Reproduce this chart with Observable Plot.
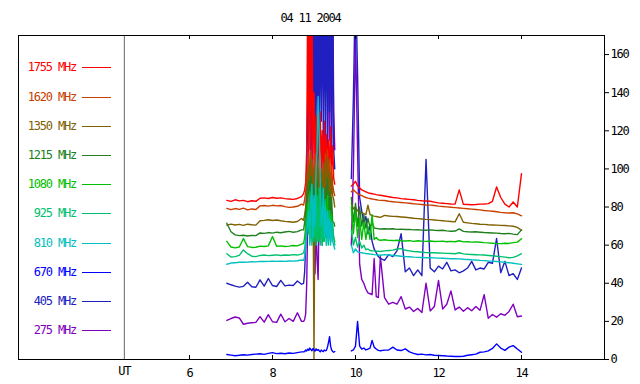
<!DOCTYPE html>
<html><head><meta charset="utf-8">
<script src="https://cdn.jsdelivr.net/npm/d3@7"></script>
<script src="https://cdn.jsdelivr.net/npm/@observablehq/plot@0.6"></script>
<style>
body{margin:0;background:#fff;}
#wrap{position:relative;width:640px;height:384px;font-family:"DejaVu Sans Mono",monospace;font-size:12px;letter-spacing:-1.2px;}
#wrap svg{position:absolute;left:0;top:0;}
#title{position:absolute;top:11px;left:0;width:621px;text-align:center;line-height:14px;color:#000;}
.lg{position:absolute;left:0;height:14px;line-height:14px;display:flex;align-items:center;}
.lg span{display:inline-block;width:76px;text-align:right;}
.lg i{display:inline-block;width:29px;height:1px;background:currentColor;margin-left:6px;}
</style></head>
<body><div id="wrap"><div id="title"></div></div>
<script>
const title = "04 11 2004";
const names = ["1755 MHz","1620 MHz","1350 MHz","1215 MHz","1080 MHz","925 MHz","810 MHz","670 MHz","405 MHz","275 MHz"];
const colors = ["#ff0000","#c84000","#806000","#208020","#00c000","#00c070","#00c0c0","#0000ff","#2020c0","#8000c0"];
const xTicks = [6,8,10,12,14];
const yTicks = [0,20,40,60,80,100,120,140,160];
const utMark = 4.43;
const utLabel = "UT";

// time (UT hours)
const T = [6.9,7.0,7.1,7.2,7.3,7.4,7.5,7.6,7.7,7.8,7.9,8.0,8.1,8.2,8.3,8.4,8.5,8.6,8.7,
8.75,8.775,8.8,8.825,8.85,8.875,8.9,8.925,8.95,8.975,9.0,9.025,9.05,9.075,9.1,9.125,9.15,9.175,9.2,9.225,9.25,9.275,9.3,9.325,9.35,9.375,9.4,9.425,9.45,9.475,9.5,
9.7,
9.9,9.95,10.0,10.05,10.1,10.15,10.2,10.25,10.3,10.35,10.4,10.45,10.5,10.55,10.6,
10.7,10.8,10.9,11.0,11.1,11.2,11.3,11.4,11.5,11.6,11.7,11.8,11.9,12.0,12.1,12.2,12.3,12.4,12.5,12.6,12.7,12.8,12.9,13.0,13.1,13.2,13.3,13.4,13.5,13.6,13.7,13.8,13.9,14.0];

const f1755 = [83.5,83,83.8,83.2,83.5,82.8,83.3,83,84.6,84.8,84.5,85,84.6,84.8,84.4,84.2,84,84.5,85.5,
87,89,93,110,200,100,200,110,200,105,140,100,128,98,122,100,130,100,120,96,125,100,118,98,115,96,122,100,112,95,92,
null,
91,92,93.5,91,90,89,88.5,88,87.5,87.2,87,86.8,86.5,86.3,86.2,
85.8,85.4,85,84.8,84.4,84.2,84,83.8,83.5,83.3,83.2,83,82.6,82.2,82,81.8,81.6,81.5,89,81.4,81.3,81.2,81.3,81.5,81.6,81.8,83,90.5,85,81.5,80,82.6,80,97.5];
const f1620 = [79.3,78.6,79.2,78.8,79.4,78.5,79,78.7,80.6,80.8,80.5,80.9,80.6,80.8,80.2,79.8,80,80.4,81.5,
81,84,88,95,100,108,90,110,88,105,86,108,92,104,86,106,90,100,84,103,90,108,86,110,92,105,86,102,92,88,86,
null,
88,89,88,87,86.5,86,85.5,85,84.7,84.5,84.2,84,83.8,83.6,83.5,
83.4,83,82.8,82.6,82.4,82.2,82,81.7,81.5,81.3,81.1,81,80.8,80.5,80.3,80.1,79.9,79.7,79.5,79.3,79.1,78.9,78.7,78.5,78.2,78,77.8,77.5,77.2,77,76.9,77,76.4,75.4];
const f1350 = [70.5,71,70.6,70.9,70.4,71,70.7,70.5,72.8,73,73.3,72.9,73.2,72.8,72.5,72.3,72,72.4,74,
73,76,80,88,95,102,84,105,82,100,0,98,82,102,80,100,84,98,80,100,84,104,82,106,86,98,80,95,86,84,80,
null,
82,79,80,78,77.5,77,76.5,76,81,76,75.5,75.2,75,74.8,74.6,
75.6,75.3,75.1,75,74.8,74.6,74.4,74.1,73.9,73.7,73.5,73.4,73.2,73,72.8,72.6,72.4,72.2,76.5,72,71.7,71.4,71.2,71,70.9,70.7,70.6,70.5,70.4,70.3,70.1,69.9,69.3,67.8];
const f1215 = [71.5,67,65.4,65,65.2,64.8,65.1,65,66.4,66.2,66.6,66.3,66.8,66.5,66.9,67.2,66.8,67.1,68,
68,72,76,82,88,94,76,96,74,92,72,90,70,94,72,88,70,92,72,86,70,90,74,95,72,88,74,85,72,72,70,
null,
85,72,82,70,80,70,76,69,74,69.5,72,69,68.8,68.6,68.5,
68.6,68.5,68.6,68.3,68.4,68.2,68.3,68,68.1,67.9,67.8,68,67.8,67.7,67.8,67.5,67.3,67.4,68.5,67.2,67,66.9,67,66.8,66.6,66.5,66.4,66.3,66.1,66,66.2,65.8,65.5,68];
const f1080 = [62,59,58.6,59,63.5,59.2,58.8,58.9,59.5,59.3,59.6,64.5,59.4,59.6,59.3,59.5,59.8,59.6,60.5,
61,64,70,76,82,66,88,64,84,62,80,64,90,62,78,62,85,64,76,62,82,64,68,86,64,78,62,76,66,64,62,
null,
80,66,78,64,74,63,72,63,70,63,76,63,64,62.8,62.6,
62.8,62.5,62.4,62.6,62.3,62.2,62.4,62,62.3,62.1,62,62.2,61.9,62,62.1,61.8,62,61.8,62.3,61.7,61.8,61.6,61.7,61.5,61.3,61.2,61,60.8,60.8,61,60.9,61.3,61.6,63.4];
const f925 = [55.5,53.8,54,54.6,57.5,55.5,54.2,54,54.6,54.8,54.5,54.7,54.9,54.6,54.8,54.7,55,54.8,55.3,
56,58,64,70,76,82,62,80,60,84,62,78,60,86,62,90,60,76,60,80,62,84,60,74,60,78,62,70,72,64,60,
null,
68,60,64,59,62,58.5,60,57.6,58,57.2,57,57,56.8,56.8,56.7,
57,57.2,57.4,58,58.2,57.3,57,56.7,56.5,56.3,56.1,56,56,55.9,55.8,55.7,55.6,55.5,56,55.4,55.2,55.1,55,54.9,54.8,54.6,54.4,54.2,54,53.7,53.4,53.6,54.4,55.5];
const f810 = [50,50.6,50.8,51,51,51.1,51.3,51.2,51.5,51.4,51.5,51.6,51.5,51.6,51.5,51.7,51.6,51.8,52.2,
52,54,60,66,72,78,60,84,92,64,86,70,100,110,138,120,96,70,76,90,64,80,60,78,62,74,60,72,62,60,58,
null,
60,56,58,56.5,56.2,56,55.8,55.6,55.5,55.3,55.2,55,54.9,54.8,54.7,
55,54.8,54.6,54.4,54.2,54,53.9,53.7,53.6,53.5,53.4,53.4,53.3,53.2,53.1,53,52.9,52.9,52.8,52.6,52.5,52.3,52.2,52,51.9,51.7,51.6,51.4,51.2,51,50.8,50.5,50.2,49.9];
const f670 = [2.6,2.3,2.0,2.2,2.5,2.3,2.6,2.8,3.0,2.7,3.2,3.6,3.1,3.3,3.0,3.4,3.2,3.6,4.0,
4,4.2,5,4.5,5.5,4.8,6,5.2,4.6,5.8,5,4.4,5.6,4.8,5.2,4.6,4,5,4.4,4.2,5,4.6,4.8,6.5,9,12,7,5,4.2,3.8,4.2,
null,
4.5,5,7,20,7,5.5,6,5,5.5,6,10,6.5,5.5,4.8,4.6,
4.9,5,6.5,5,4.7,5.6,4,3.2,2.6,2.8,2.4,2.6,2.2,2.1,2,1.8,1.7,1.6,1.6,1.7,2.2,2.5,2.8,3.8,4,4.5,5.8,8.2,6,4.8,6.5,7.3,5.5,3.8];
const f405 = [40,39.2,38.5,38,38.4,40.5,38.2,37.9,41.8,38.5,42.5,38.8,38.3,41.5,38.6,39,38.8,41.2,39.5,
40,46,60,95,140,110,200,105,200,120,200,100,200,115,200,105,200,125,200,110,200,118,200,108,200,130,200,112,200,110,100,
null,
95,138,200,150,85,78,72,75,66,70,62,58,56,54,53,
52,55,54,57,66,46,48,44,47,44,105,48,46,49,47.5,51,46.5,47,45.5,46.5,48,51.5,47,48,47.5,51,50.5,63.5,45.5,51.5,44,45,42,48];
const f275 = [20.5,21.5,22.3,21.8,18.5,19,19.3,19.5,22.5,19.6,23.5,19.8,19.5,23.8,19.8,21.5,20,24.5,20,
20,21,24,40,75,130,200,95,160,90,60,45,70,52,42,80,70,95,60,110,80,120,90,105,200,115,200,110,200,130,110,
null,
60,100,170,110,50,42,40,37,35,34.5,34,53,33,32.5,54,
32.5,29,30,29,33,26.5,27.5,25.2,26.8,24.6,40,25.5,27.8,41.5,26.5,29,36,26,27.5,25.3,27.2,25.6,27.8,25.8,34,21.6,23.6,22.2,24,23.2,25.2,29,22.4,22.8];

const series = [f1755,f1620,f1350,f1215,f1080,f925,f810,f670,f405,f275];
const drawOrder = [9,8,0,1,2,3,4,5,6,7];

const rows = [];
for (const k of drawOrder) {
  const vals = series[k];
  T.forEach((t, i) => rows.push({t, v: vals[i], s: names[k]}));
}

const chart = Plot.plot({
  width: 640, height: 384,
  marginLeft: 18, marginRight: 36, marginTop: 35, marginBottom: 25,
  style: {fontFamily: "DejaVu Sans Mono", fontSize: "12px", background: "white", color: "black", letterSpacing: "-1.2px"},
  x: {domain: [1.88, 16]},
  y: {domain: [0, 170]},
  color: {domain: names, range: colors},
  marks: [
    Plot.ruleX([utMark], {stroke: "#666"}),
    Plot.line(rows, {x: "t", y: "v", z: "s", stroke: "s", strokeWidth: 1.4, clip: true}),
    Plot.frame({stroke: "black"}),
    Plot.ruleX(xTicks, {insetTop: 320, stroke: "black"}),
    Plot.ruleX(xTicks, {insetBottom: 320, stroke: "black"}),
    Plot.axisX(xTicks, {anchor: "bottom", tickSize: 0, tickPadding: 9, label: null}),
    Plot.axisX([utMark], {anchor: "bottom", tickSize: 0, tickPadding: 7, tickFormat: () => utLabel, label: null}),
    Plot.axisY(yTicks, {anchor: "right", tickSize: 4, tickPadding: 2, label: null})
  ]
});

const wrap = document.getElementById("wrap");
wrap.insertBefore(chart, wrap.firstChild);
document.getElementById("title").textContent = title;

// legend
const legTop = 67.3, legStep = 29.22;
names.forEach((n, i) => {
  const row = document.createElement("div");
  row.className = "lg";
  row.style.top = Math.round(legTop + i * legStep - 7) + "px";
  row.style.color = colors[i];
  const sp = document.createElement("span");
  sp.textContent = n;
  const ln = document.createElement("i");
  row.appendChild(sp); row.appendChild(ln);
  wrap.appendChild(row);
});
</script>
</body></html>
